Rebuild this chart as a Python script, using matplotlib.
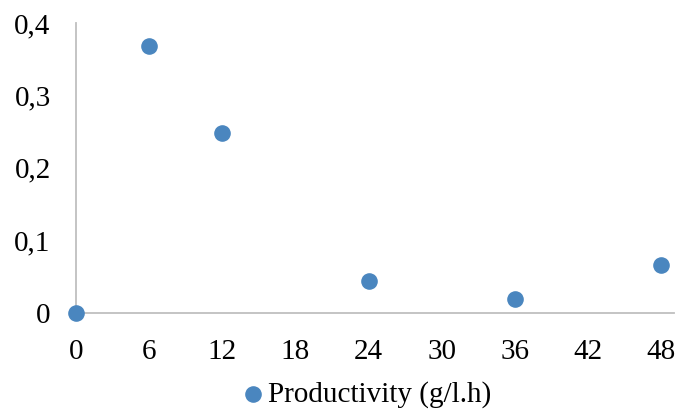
import matplotlib.pyplot as plt

hours = [0, 6, 12, 24, 36, 48]
productivity = [0.0, 0.368, 0.248, 0.044, 0.019, 0.066]
x_ticks = [0, 6, 12, 18, 24, 30, 36, 42, 48]
y_ticks = [0, 0.1, 0.2, 0.3, 0.4]
y_labels = ['0', '0,1', '0,2', '0,3', '0,4']

plt.rcParams['font.family'] = 'Liberation Serif'
plt.rcParams['font.size'] = 21

fig = plt.figure(figsize=(6.82, 4.16), dpi=100)
ax = fig.add_axes([0.111, 0.248, 0.878, 0.697])
ax.scatter(hours, productivity, s=120, color='#4A86BF', zorder=3, clip_on=False,
           label='Productivity (g/l.h)')

# axis line runs a little past the last tick
ax.set_xlim(0, 49.07)
ax.set_ylim(0, 0.4)
ax.set_xticks(x_ticks)
ax.set_yticks(y_ticks)
ax.set_yticklabels(y_labels)
ax.tick_params(length=0)
ax.tick_params(axis='y', pad=18)
ax.tick_params(axis='x', pad=19)
for s in ['top', 'right']:
    ax.spines[s].set_visible(False)
for s in ['left', 'bottom']:
    ax.spines[s].set_color('#BFBFBF')
    ax.spines[s].set_linewidth(1.3)

fig.legend(loc='center', bbox_to_anchor=(0.537, 0.052), frameon=False,
           handletextpad=0.1, handlelength=0.8, borderpad=0)

plt.savefig('out.png')
